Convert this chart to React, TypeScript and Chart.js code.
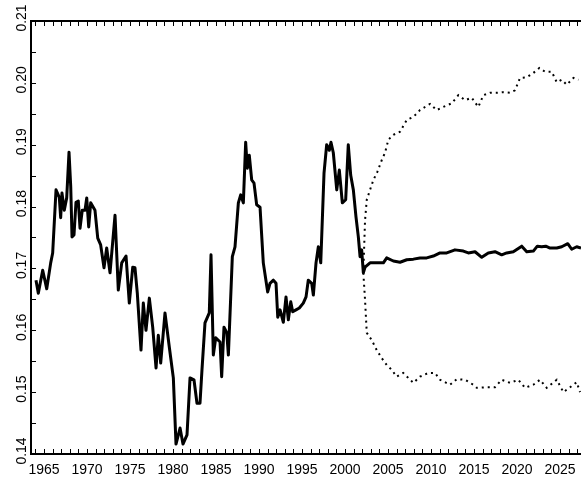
import React, { useEffect, useRef } from "react";
import { Chart, registerables } from "chart.js";

Chart.register(...registerables);

// Historical series (year, ratio)
const histYears = [
  1964.07, 1964.34, 1964.85, 1965.32, 1965.78, 1966.01, 1966.4, 1966.78, 1966.94, 1967.09,
  1967.36, 1967.64, 1967.91, 1968.11, 1968.26, 1968.49, 1968.72, 1968.99, 1969.19, 1969.45,
  1969.77, 1969.97, 1970.2, 1970.43, 1970.93, 1971.25, 1971.59, 1971.98, 1972.29, 1972.68,
  1973.26, 1973.64, 1974.04, 1974.54, 1974.92, 1975.32, 1975.58, 1975.85, 1976.28, 1976.55,
  1976.86, 1977.25, 1977.64, 1978.03, 1978.29, 1978.57, 1979.07, 1979.57, 1980.04, 1980.35,
  1980.82, 1981.16, 1981.63, 1981.98, 1982.44, 1982.79, 1983.14, 1983.37, 1983.72, 1984.22,
  1984.42, 1984.69, 1984.97, 1985.47, 1985.66, 1985.93, 1986.25, 1986.44, 1986.9, 1987.21,
  1987.6, 1987.87, 1988.18, 1988.45, 1988.64, 1988.87, 1989.15, 1989.42, 1989.73, 1990.12,
  1990.5, 1991.01, 1991.28, 1991.67, 1991.98, 1992.18, 1992.45, 1992.83, 1993.14, 1993.41,
  1993.69, 1993.92, 1994.3, 1994.69, 1995.15, 1995.47, 1995.73, 1996.13, 1996.32, 1996.63,
  1996.9, 1997.18, 1997.56, 1997.87, 1998.18, 1998.37, 1998.64, 1999.04, 1999.34, 1999.69,
  2000.08, 2000.38, 2000.66, 2000.97, 2001.28, 2001.55, 2001.75, 2001.94, 2002.13,
];
const histValues = [
  0.1681, 0.166, 0.1697, 0.1667, 0.1709, 0.1725, 0.1827, 0.1815, 0.1782, 0.1822,
  0.1794, 0.1814, 0.1888, 0.1832, 0.1751, 0.1754, 0.1807, 0.1809, 0.1765, 0.1794,
  0.1794, 0.1814, 0.1767, 0.1806, 0.1794, 0.1749, 0.1738, 0.1701, 0.1733, 0.1693,
  0.1786, 0.1665, 0.1709, 0.172, 0.1644, 0.1702, 0.1701, 0.166, 0.1568, 0.1644,
  0.16, 0.1652, 0.1605, 0.1539, 0.1592, 0.1547, 0.1628, 0.1573, 0.1523, 0.1416,
  0.1442, 0.1416, 0.1431, 0.1523, 0.152, 0.1482, 0.1482, 0.1536, 0.1612, 0.1628,
  0.1722, 0.156, 0.1588, 0.1581, 0.1525, 0.1605, 0.1596, 0.156, 0.1719, 0.1735,
  0.1806, 0.1819, 0.1806, 0.1904, 0.1862, 0.1883, 0.1843, 0.1838, 0.1803, 0.1799,
  0.1709, 0.1662, 0.1676, 0.1681, 0.1676, 0.1621, 0.1633, 0.1613, 0.1654, 0.1617,
  0.1646, 0.163, 0.1633, 0.1636, 0.1644, 0.1654, 0.1681, 0.1676, 0.1657, 0.1709,
  0.1735, 0.1709, 0.1854, 0.19, 0.1891, 0.1904, 0.1887, 0.1827, 0.1859, 0.1806,
  0.1811, 0.19, 0.1851, 0.1827, 0.1783, 0.1751, 0.1719, 0.173, 0.1693,
];

// Forecast median
const medYears = [
  2002.33, 2002.91, 2003.69, 2004.46, 2004.85, 2005.62, 2006.4, 2007.18, 2007.95, 2008.72,
  2009.5, 2010.27, 2011.05, 2011.83, 2012.79, 2013.76, 2014.34, 2015.12, 2015.9, 2016.66,
  2017.44, 2018.22, 2018.8, 2019.57, 2020.55, 2021.13, 2021.9, 2022.36, 2022.87, 2023.34,
  2023.84, 2024.62, 2025.2, 2025.9, 2026.36, 2026.94, 2027.44,
];
const medValues = [
  0.1702, 0.1709, 0.1709, 0.1709, 0.1717, 0.1712, 0.171, 0.1714, 0.1715, 0.1717,
  0.1717, 0.172, 0.1725, 0.1725, 0.173, 0.1728, 0.1725, 0.1727, 0.1718, 0.1725,
  0.1727, 0.1722, 0.1725, 0.1727, 0.1736, 0.1727, 0.1728, 0.1736, 0.1735, 0.1736,
  0.1733, 0.1733, 0.1735, 0.174, 0.1731, 0.1735, 0.1733,
];

// Upper band
const upYears = [
  2002.13, 2002.33, 2002.53, 2002.91, 2003.3, 2003.76, 2004.27, 2004.65, 2005.04, 2005.62,
  2006.4, 2007.18, 2007.95, 2008.72, 2009.3, 2009.89, 2010.66, 2011.43, 2012.41, 2013.18,
  2013.96, 2014.73, 2015.5, 2016.09, 2016.86, 2017.64, 2018.41, 2019.19, 2019.77, 2020.35,
  2021.13, 2021.9, 2022.6, 2023.26, 2024.04, 2024.62, 2025.2, 2025.78, 2026.56, 2027.14,
];
const upValues = [
  0.1693, 0.1778, 0.1811, 0.1827, 0.1843, 0.1856, 0.1875, 0.1887, 0.1908, 0.1916,
  0.1921, 0.194, 0.1945, 0.1956, 0.1961, 0.1966, 0.1956, 0.1961, 0.1967, 0.198,
  0.1972, 0.1976, 0.1961, 0.198, 0.1984, 0.1984, 0.1985, 0.1984, 0.1988, 0.2008,
  0.2009, 0.2016, 0.2024, 0.2018, 0.2018, 0.2001, 0.2005, 0.1997, 0.2008, 0.2005,
];

// Lower band
const lowYears = [
  2002.13, 2002.33, 2002.53, 2003.11, 2003.69, 2004.27, 2004.85, 2005.43, 2006.01, 2006.78,
  2007.36, 2007.95, 2008.72, 2009.69, 2010.47, 2011.05, 2012.21, 2012.99, 2013.96, 2014.92,
  2015.32, 2016.48, 2017.44, 2018.22, 2019.19, 2020.15, 2020.93, 2021.9, 2022.67, 2023.45,
  2024.62, 2025.39, 2026.17, 2026.94, 2027.33,
];
const lowValues = [
  0.1693, 0.1649, 0.1596, 0.1584, 0.1568, 0.1555, 0.1544, 0.1536, 0.1525, 0.1531,
  0.1523, 0.1515, 0.1525, 0.1531, 0.1531, 0.152, 0.1512, 0.1521, 0.152, 0.1512,
  0.1507, 0.1508, 0.1508, 0.152, 0.1515, 0.152, 0.1507, 0.1512, 0.152, 0.1507,
  0.152, 0.15, 0.1508, 0.1516, 0.15,
];

const xTickLabels = [1965, 1970, 1975, 1980, 1985, 1990, 1995, 2000, 2005, 2010, 2015, 2020, 2025];
const yTickLabels = ["0.14", "0.15", "0.16", "0.17", "0.18", "0.19", "0.20", "0.21"];
const X_MIN = 1963.49;
const X_MAX = 2027.44;
const Y_MIN = 0.14;
const Y_MAX = 0.21;

const toPts = (xs: number[], ys: number[]) => xs.map((x, i) => ({ x, y: ys[i] }));

const framePlugin = {
  id: "frame",
  afterDraw(chart: any) {
    const ctx = chart.ctx;
    const { left, top, right, bottom } = chart.chartArea;
    const xs = chart.scales.x;
    const ys = chart.scales.y;
    ctx.save();
    ctx.strokeStyle = "#000";
    ctx.fillStyle = "#000";
    // axis lines
    ctx.lineWidth = 2;
    ctx.beginPath();
    ctx.moveTo(left, top);
    ctx.lineTo(right + 2, top);
    ctx.moveTo(left, top - 1);
    ctx.lineTo(left, bottom + 1);
    ctx.moveTo(left, bottom);
    ctx.lineTo(right + 2, bottom);
    ctx.stroke();
    // inward year ticks
    ctx.lineWidth = 1;
    ctx.beginPath();
    for (let yr = Math.ceil(X_MIN); yr <= X_MAX; yr++) {
      const px = Math.round(xs.getPixelForValue(yr)) + 0.5;
      ctx.moveTo(px, bottom);
      ctx.lineTo(px, bottom - 5);
      ctx.moveTo(px, top);
      ctx.lineTo(px, top + 5);
    }
    // inward value ticks every 0.005
    for (let k = 1; k < 14; k++) {
      const v = Y_MIN + k * 0.005;
      const py = Math.round(ys.getPixelForValue(v)) + 0.5;
      ctx.moveTo(left, py);
      ctx.lineTo(left + 5, py);
    }
    ctx.stroke();
    // x labels
    ctx.font = '14px "Liberation Sans", Arial, sans-serif';
    ctx.textAlign = "center";
    ctx.textBaseline = "alphabetic";
    xTickLabels.forEach((yr) => {
      ctx.fillText(String(yr), xs.getPixelForValue(yr), bottom + 20);
    });
    // y labels, rotated
    yTickLabels.forEach((lab) => {
      const py = ys.getPixelForValue(parseFloat(lab));
      ctx.save();
      ctx.translate(26, py - 3);
      ctx.rotate(-Math.PI / 2);
      ctx.textAlign = "center";
      ctx.textBaseline = "alphabetic";
      ctx.fillText(lab, 0, 0);
      ctx.restore();
    });
    ctx.restore();
  },
};

export default function App() {
  const ref = useRef<HTMLCanvasElement | null>(null);
  useEffect(() => {
    document.body.style.margin = "0";
    const canvas = ref.current;
    if (!canvas) return;
    const chart = new Chart(canvas, {
      type: "line",
      data: {
        datasets: [
          {
            data: toPts(histYears.concat(medYears), histValues.concat(medValues)),
            borderColor: "#000",
            borderWidth: 3,
            borderJoinStyle: "round",
            pointRadius: 0,
            tension: 0,
          },
          {
            data: toPts(upYears, upValues),
            borderColor: "#000",
            borderWidth: 2,
            borderDash: [2, 4],
            pointRadius: 0,
            tension: 0,
          },
          {
            data: toPts(lowYears, lowValues),
            borderColor: "#000",
            borderWidth: 2,
            borderDash: [2, 4],
            pointRadius: 0,
            tension: 0,
          },
        ],
      },
      options: {
        responsive: false,
        animation: false,
        devicePixelRatio: 1,
        layout: { padding: { left: 31, top: 21, right: 0, bottom: 25 } },
        plugins: { legend: { display: false }, tooltip: { enabled: false } },
        scales: {
          x: { type: "linear", min: X_MIN, max: X_MAX, display: false },
          y: { type: "linear", min: Y_MIN, max: Y_MAX, display: false },
        },
      },
      plugins: [framePlugin],
    });
    return () => chart.destroy();
  }, []);
  return (
    <div style={{ width: 581, height: 479, background: "#fff" }}>
      <canvas ref={ref} width={581} height={479} style={{ display: "block" }} />
    </div>
  );
}
